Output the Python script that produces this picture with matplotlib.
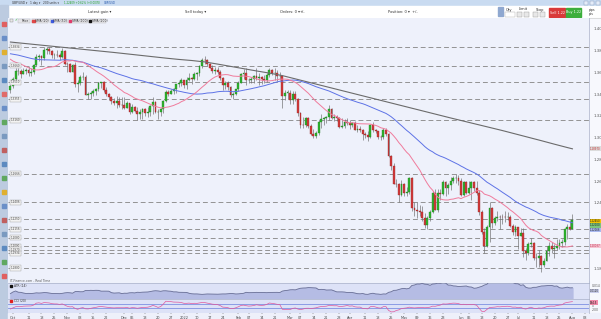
import numpy as np
import pandas as pd
import matplotlib
matplotlib.use("Agg")
import matplotlib.pyplot as plt
from matplotlib.patches import Rectangle

W, H = 601, 319

# GBP/USD daily candles, 30 Sep 2021 - 1 Aug 2022 (one line per week)
opens = [
    1.3435, 1.3477,
    1.3538, 1.3613, 1.3616, 1.3590, 1.3616,
    1.3618, 1.3594, 1.3608, 1.3672, 1.3741,
    1.3747, 1.3732, 1.3808, 1.3819, 1.3802,
    1.3757, 1.3761, 1.3757, 1.3743, 1.3798,
    1.3679, 1.3675, 1.3608, 1.3667, 1.3497,
    1.3500, 1.3556, 1.3560, 1.3395, 1.3403,
    1.3415, 1.3425, 1.3452, 1.3499, 1.3512,
    1.3437, 1.3400, 1.3376, 1.3338, 1.3319,
    1.3337, 1.3303, 1.3300, 1.3275, 1.3317,
    1.3236, 1.3283, 1.3248, 1.3218, 1.3240,
    1.3264, 1.3223, 1.3233, 1.3290, 1.3328,
    1.3233, 1.3239, 1.3263, 1.3337, 1.3417,
    1.3403, 1.3428, 1.3446, 1.3491, 1.3506,
    1.3532, 1.3482, 1.3535, 1.3551, 1.3539,
    1.3590, 1.3595, 1.3657, 1.3717, 1.3714,
    1.3677, 1.3645, 1.3611, 1.3627, 1.3605,
    1.3550, 1.3485, 1.3500, 1.3465, 1.3390,
    1.3400, 1.3447, 1.3506, 1.3590, 1.3591,
    1.3528, 1.3530, 1.3537, 1.3565, 1.3550,
    1.3557, 1.3537, 1.3530, 1.3575, 1.3618,
    1.3591, 1.3594, 1.3565, 1.3570, 1.3382,
    1.3413, 1.3414, 1.3342, 1.3404, 1.3357,
    1.3224, 1.3116, 1.3114, 1.3180, 1.3107,
    1.3035, 1.3012, 1.3041, 1.3148, 1.3174,
    1.3179, 1.3189, 1.3268, 1.3184, 1.3190,
    1.3182, 1.3100, 1.3103, 1.3145, 1.3139,
    1.3116, 1.3133, 1.3070, 1.3077, 1.3069,
    1.3030, 1.3022, 1.3003, 1.3117, 1.3069,
    1.3060, 1.3005, 1.3004, 1.3068, 1.3035,
    1.2832, 1.2737, 1.2576, 1.2573, 1.2475,
    1.2574, 1.2490, 1.2496, 1.2628, 1.2355,
    1.2336, 1.2329, 1.2320, 1.2256, 1.2194,
    1.2259, 1.2313, 1.2489, 1.2338, 1.2494,
    1.2484, 1.2588, 1.2532, 1.2567, 1.2603,
    1.2624, 1.2626, 1.2598, 1.2471, 1.2594,
    1.2487, 1.2532, 1.2590, 1.2539, 1.2490,
    1.2313, 1.2132, 1.2004, 1.2178, 1.2349,
    1.2218, 1.2260, 1.2271, 1.2270, 1.2266,
    1.2265, 1.2268, 1.2184, 1.2133, 1.2178,
    1.2096, 1.2120, 1.1955, 1.1935, 1.2023,
    1.2032, 1.1893, 1.1892, 1.1915, 1.1825,
    1.1866, 1.1957, 1.2001, 1.1975, 1.1988,
    1.1998, 1.2034, 1.2037, 1.2163, 1.2177,
    1.2162,
]
highs = [
    1.3490, 1.3562,
    1.3641, 1.3640, 1.3628, 1.3640, 1.3641,
    1.3655, 1.3640, 1.3680, 1.3773, 1.3774,
    1.3764, 1.3832, 1.3834, 1.3832, 1.3811,
    1.3782, 1.3810, 1.3775, 1.3825, 1.3805,
    1.3700, 1.3688, 1.3680, 1.3698, 1.3528,
    1.3574, 1.3607, 1.3577, 1.3420, 1.3431,
    1.3445, 1.3461, 1.3514, 1.3514, 1.3520,
    1.3463, 1.3411, 1.3385, 1.3363, 1.3380,
    1.3372, 1.3370, 1.3371, 1.3340, 1.3319,
    1.3314, 1.3293, 1.3282, 1.3260, 1.3274,
    1.3275, 1.3282, 1.3300, 1.3375, 1.3340,
    1.3260, 1.3270, 1.3350, 1.3437, 1.3438,
    1.3444, 1.3457, 1.3498, 1.3525, 1.3548,
    1.3535, 1.3560, 1.3599, 1.3555, 1.3600,
    1.3604, 1.3665, 1.3733, 1.3748, 1.3722,
    1.3690, 1.3673, 1.3646, 1.3647, 1.3619,
    1.3556, 1.3522, 1.3517, 1.3472, 1.3418,
    1.3450, 1.3525, 1.3598, 1.3629, 1.3640,
    1.3545, 1.3555, 1.3578, 1.3643, 1.3596,
    1.3567, 1.3575, 1.3592, 1.3643, 1.3632,
    1.3640, 1.3625, 1.3600, 1.3574, 1.3440,
    1.3440, 1.3438, 1.3429, 1.3432, 1.3368,
    1.3238, 1.3187, 1.3190, 1.3188, 1.3121,
    1.3080, 1.3058, 1.3161, 1.3213, 1.3189,
    1.3202, 1.3298, 1.3272, 1.3215, 1.3205,
    1.3190, 1.3180, 1.3167, 1.3178, 1.3164,
    1.3147, 1.3150, 1.3114, 1.3110, 1.3080,
    1.3054, 1.3057, 1.3130, 1.3148, 1.3077,
    1.3063, 1.3022, 1.3091, 1.3090, 1.3041,
    1.2840, 1.2770, 1.2620, 1.2584, 1.2608,
    1.2584, 1.2542, 1.2638, 1.2637, 1.2403,
    1.2407, 1.2380, 1.2372, 1.2308, 1.2276,
    1.2333, 1.2507, 1.2525, 1.2527, 1.2524,
    1.2610, 1.2600, 1.2580, 1.2640, 1.2647,
    1.2666, 1.2652, 1.2624, 1.2600, 1.2599,
    1.2599, 1.2601, 1.2598, 1.2601, 1.2514,
    1.2333, 1.2166, 1.2200, 1.2406, 1.2364,
    1.2283, 1.2324, 1.2290, 1.2297, 1.2323,
    1.2314, 1.2292, 1.2207, 1.2192, 1.2180,
    1.2165, 1.2164, 1.1986, 1.2036, 1.2077,
    1.2040, 1.1937, 1.1966, 1.1922, 1.1890,
    1.2003, 1.2035, 1.2040, 1.2020, 1.2063,
    1.2066, 1.2063, 1.2170, 1.2204, 1.2246,
    1.2293,
]
lows = [
    1.3412, 1.3460,
    1.3530, 1.3578, 1.3545, 1.3582, 1.3582,
    1.3570, 1.3570, 1.3582, 1.3660, 1.3706,
    1.3666, 1.3718, 1.3766, 1.3772, 1.3737,
    1.3727, 1.3740, 1.3718, 1.3736, 1.3671,
    1.3605, 1.3607, 1.3605, 1.3470, 1.3424,
    1.3485, 1.3533, 1.3390, 1.3354, 1.3354,
    1.3386, 1.3390, 1.3432, 1.3459, 1.3419,
    1.3387, 1.3343, 1.3306, 1.3301, 1.3276,
    1.3286, 1.3261, 1.3265, 1.3270, 1.3214,
    1.3231, 1.3234, 1.3160, 1.3173, 1.3175,
    1.3199, 1.3193, 1.3195, 1.3214, 1.3226,
    1.3172, 1.3202, 1.3228, 1.3330, 1.3387,
    1.3400, 1.3400, 1.3409, 1.3468, 1.3478,
    1.3460, 1.3450, 1.3525, 1.3490, 1.3530,
    1.3535, 1.3568, 1.3645, 1.3680, 1.3656,
    1.3640, 1.3591, 1.3590, 1.3584, 1.3530,
    1.3434, 1.3450, 1.3434, 1.3375, 1.3358,
    1.3390, 1.3425, 1.3500, 1.3538, 1.3488,
    1.3500, 1.3500, 1.3505, 1.3532, 1.3485,
    1.3490, 1.3500, 1.3512, 1.3560, 1.3573,
    1.3532, 1.3524, 1.3531, 1.3272, 1.3344,
    1.3357, 1.3314, 1.3308, 1.3338, 1.3200,
    1.3087, 1.3086, 1.3100, 1.3093, 1.3020,
    1.3000, 1.2999, 1.3027, 1.3090, 1.3119,
    1.3135, 1.3165, 1.3176, 1.3151, 1.3150,
    1.3090, 1.3090, 1.3090, 1.3118, 1.3080,
    1.3099, 1.3068, 1.3055, 1.3052, 1.2982,
    1.2994, 1.2973, 1.2998, 1.3050, 1.3046,
    1.2987, 1.2974, 1.2990, 1.3015, 1.2821,
    1.2700, 1.2570, 1.2548, 1.2411, 1.2467,
    1.2467, 1.2460, 1.2479, 1.2325, 1.2276,
    1.2260, 1.2280, 1.2235, 1.2165, 1.2156,
    1.2230, 1.2303, 1.2330, 1.2318, 1.2424,
    1.2474, 1.2465, 1.2480, 1.2517, 1.2580,
    1.2580, 1.2563, 1.2460, 1.2462, 1.2480,
    1.2482, 1.2426, 1.2512, 1.2474, 1.2292,
    1.2116, 1.1934, 1.1992, 1.2040, 1.2171,
    1.2200, 1.2234, 1.2161, 1.2205, 1.2225,
    1.2239, 1.2176, 1.2106, 1.2091, 1.1975,
    1.2090, 1.1900, 1.1876, 1.1920, 1.1996,
    1.1870, 1.1807, 1.1807, 1.1760, 1.1805,
    1.1860, 1.1914, 1.1941, 1.1891, 1.1968,
    1.1979, 1.1990, 1.2014, 1.2063, 1.2150,
    1.2155,
]
closes = [
    1.3477, 1.3538,
    1.3613, 1.3616, 1.3590, 1.3616, 1.3618,
    1.3594, 1.3608, 1.3672, 1.3741, 1.3747,
    1.3732, 1.3808, 1.3819, 1.3802, 1.3757,
    1.3761, 1.3757, 1.3743, 1.3798, 1.3679,
    1.3675, 1.3608, 1.3667, 1.3497, 1.3500,
    1.3556, 1.3560, 1.3395, 1.3403, 1.3415,
    1.3425, 1.3452, 1.3499, 1.3512, 1.3437,
    1.3400, 1.3376, 1.3338, 1.3319, 1.3337,
    1.3303, 1.3300, 1.3275, 1.3317, 1.3236,
    1.3283, 1.3248, 1.3218, 1.3240, 1.3264,
    1.3223, 1.3233, 1.3290, 1.3328, 1.3233,
    1.3239, 1.3263, 1.3337, 1.3417, 1.3403,
    1.3428, 1.3446, 1.3491, 1.3506, 1.3532,
    1.3482, 1.3535, 1.3551, 1.3539, 1.3590,
    1.3595, 1.3657, 1.3717, 1.3714, 1.3677,
    1.3645, 1.3611, 1.3627, 1.3605, 1.3550,
    1.3485, 1.3500, 1.3465, 1.3390, 1.3400,
    1.3447, 1.3506, 1.3590, 1.3591, 1.3528,
    1.3530, 1.3537, 1.3565, 1.3550, 1.3557,
    1.3537, 1.3530, 1.3575, 1.3618, 1.3591,
    1.3594, 1.3565, 1.3570, 1.3382, 1.3413,
    1.3414, 1.3342, 1.3404, 1.3357, 1.3224,
    1.3116, 1.3114, 1.3180, 1.3107, 1.3035,
    1.3012, 1.3041, 1.3148, 1.3174, 1.3179,
    1.3189, 1.3268, 1.3184, 1.3190, 1.3182,
    1.3100, 1.3103, 1.3145, 1.3139, 1.3116,
    1.3133, 1.3070, 1.3077, 1.3069, 1.3030,
    1.3022, 1.3003, 1.3117, 1.3069, 1.3060,
    1.3005, 1.3004, 1.3068, 1.3035, 1.2832,
    1.2737, 1.2576, 1.2573, 1.2475, 1.2574,
    1.2490, 1.2496, 1.2628, 1.2355, 1.2336,
    1.2329, 1.2320, 1.2256, 1.2194, 1.2259,
    1.2313, 1.2489, 1.2338, 1.2494, 1.2484,
    1.2588, 1.2532, 1.2567, 1.2603, 1.2624,
    1.2626, 1.2598, 1.2471, 1.2594, 1.2487,
    1.2532, 1.2590, 1.2539, 1.2490, 1.2313,
    1.2132, 1.2004, 1.2178, 1.2349, 1.2218,
    1.2260, 1.2271, 1.2270, 1.2266, 1.2265,
    1.2268, 1.2184, 1.2133, 1.2178, 1.2096,
    1.2120, 1.1955, 1.1935, 1.2023, 1.2032,
    1.1893, 1.1892, 1.1915, 1.1825, 1.1866,
    1.1957, 1.2001, 1.1975, 1.1988, 1.1998,
    1.2034, 1.2037, 1.2163, 1.2177, 1.2162,
    1.2245,
]
# closes from 22 Jul to 29 Sep 2021, only used to seed the averages
warmup_closes = [
    1.3764, 1.3743, 1.3825, 1.3823, 1.3901, 1.3959, 1.3898,
    1.3887, 1.3913, 1.3896, 1.3890, 1.3871,
    1.3846, 1.3844, 1.3860, 1.3796, 1.3868,
    1.3798, 1.3737, 1.3749, 1.3637, 1.3621,
    1.3718, 1.3732, 1.3736, 1.3722, 1.3763,
    1.3754, 1.3758, 1.3795, 1.3834, 1.3868,
    1.3830, 1.3773, 1.3766, 1.3834, 1.3837,
    1.3832, 1.3826, 1.3821, 1.3783, 1.3735,
    1.3663, 1.3660, 1.3622, 1.3737, 1.3675,
    1.3707, 1.3547, 1.3433,
]
# SMA (200) (candle index, price)
sma200_idx = [0, 5, 10, 15, 20, 25, 30, 35, 40, 45, 50, 55, 60, 65, 70, 75,
              80, 85, 90, 95, 100, 105, 110, 115, 120, 125, 130, 135, 140, 145,
              150, 155, 160, 165, 170, 175, 180, 185, 190, 195, 200, 205, 210,
              215, 217]
sma200_val = [1.3880, 1.3868, 1.3856, 1.3844, 1.3832, 1.3820, 1.3808, 1.3796,
              1.3784, 1.3771, 1.3758, 1.3745, 1.3732, 1.3720, 1.3710, 1.3697,
              1.3677, 1.3656, 1.3635, 1.3614, 1.3594, 1.3571, 1.3541, 1.3511,
              1.3481, 1.3451, 1.3421, 1.3391, 1.3361, 1.3331, 1.3301, 1.3271,
              1.3241, 1.3211, 1.3181, 1.3152, 1.3123, 1.3094, 1.3065, 1.3034,
              1.3003, 1.2972, 1.2940, 1.2909, 1.2897]
# dashed support / resistance lines
sr_levels = [1.3834, 1.3660, 1.3510, 1.3355, 1.3160, 1.2666, 1.2406, 1.2250,
             1.2156, 1.2080, 1.2000, 1.1970, 1.1934, 1.1800]
# price axis labels hidden behind the value tags on the right
hidden_ticks = [1.20, 1.22]

dates = pd.bdate_range("2021-09-30", "2022-08-01")
n = len(closes)
assert n == len(dates) == len(opens) == len(highs) == len(lows)

o = np.array(opens); h = np.array(highs); l = np.array(lows); c = np.array(closes)
x = np.arange(n)
nw = len(warmup_closes)

# moving averages, ATR(14), CCI(20)
c_all = pd.Series(warmup_closes + closes)
sma20 = c_all.rolling(20).mean().values[nw:]
sma50 = c_all.rolling(50).mean().values[nw:]
prev_c = np.r_[warmup_closes[-1], c[:-1]]
tr = np.maximum.reduce([h - l, np.abs(h - prev_c), np.abs(l - prev_c)])
atr = pd.Series(tr).rolling(14, min_periods=1).mean().values
tp = pd.Series(warmup_closes + list((h + l + c) / 3))
md = tp.rolling(20).apply(lambda v: np.mean(np.abs(v - v.mean())), raw=True)
cci = ((tp - tp.rolling(20).mean()) / (0.015 * md)).values[nw:]

# pixel helpers
def frac(x0, y0, x1, y1):
    return [x0 / W, 1 - y1 / H, (x1 - x0) / W, (y1 - y0) / H]

def py(v):
    return 29 + (1.40 - v) * 1086.4

XL = (-0.93, 223.4)

fig = plt.figure(figsize=(W / 100, H / 100), dpi=100)
fig.patch.set_facecolor("white")

bg = fig.add_axes([0, 0, 1, 1], zorder=0)
bg.set_xlim(0, W); bg.set_ylim(H, 0); bg.axis("off")
bg.add_patch(Rectangle((0, 0), W, 6, color="#c9dbf1"))
bg.add_patch(Rectangle((0, 6), W, 12, color="white"))
bg.plot([8, W], [17.5, 17.5], color="#d0d0d0", lw=0.5)
bg.add_patch(Rectangle((0, 5), 8, H, color="#bccbe0"))
bg.add_patch(Rectangle((589, 18), 12, 295, color="#f7f8fd"))
bg.add_patch(Rectangle((8, 313), 593, 6, color="#eef0fa"))
bg.add_patch(Rectangle((8, 281), 581, 2, color="#e6e9f8"))

# left toolbar icons
icon_cols = ["#e06060", "#6a8fc8", "#e0b030", "#7a9ac0", "#5c8ac0", "#e06a6a", "#6a8fc8",
             "#60a860", "#7a9ac0", "#c06060", "#5c8ac0", "#60a860", "#e0b030",
             "#6a8fc8", "#c06060", "#7a9ac0", "#5c8ac0", "#60a860", "#e06060"]
for k, col in enumerate(icon_cols):
    bg.add_patch(Rectangle((2, 22 + k * 14), 4, 4, color=col))

# header texts
hdr = dict(fontsize=2.6, color="#333333", va="center")
top = dict(fontsize=2.1, color="#333333", va="center")
bg.text(12, 3, "GBP/USD \u25be", **top)
bg.text(30, 3, "1 day \u25be", **top)
bg.text(43, 3, "200 units \u25be", **top)
bg.text(64, 3, "1.22409 +0.62% (+0.0076)", fontsize=1.9, color="#1e9e1e", va="center")
bg.text(104, 3, "GBP/USD", fontsize=1.9, color="#2255aa", va="center")
bg.text(88, 12, "Latest gain \u25be", **hdr)
bg.text(185, 12, "Sell today \u25be", **hdr)
bg.text(280, 12, "Orders: 0 \u25be", **hdr)
bg.text(300, 12, "+/-", **hdr)
bg.text(388, 12, "Position: 0 \u25be  +/-", **hdr)
bg.text(506, 9.5, "Qty", **hdr)
bg.text(519, 9.5, "Limit", **hdr)
bg.text(536, 9.5, "Stop", **hdr)
bg.add_patch(Rectangle((498, 7), 5, 9, color="#8fa8d0"))
bg.add_patch(Rectangle((505, 12), 10, 5, fc="white", ec="#aaaaaa", lw=0.3))
for xx in (517, 524, 533, 540):
    bg.add_patch(Rectangle((xx, 12), 5, 5, fc="#e8e8e8", ec="#999999", lw=0.3))
bg.add_patch(Rectangle((549, 8), 16, 9, color="#d93a3a"))
bg.add_patch(Rectangle((566, 8), 15, 9, color="#3cae3c"))
bg.text(557, 12.5, "Sell 1.22", fontsize=2.4, color="white", ha="center", va="center")
bg.text(573.5, 12.5, "Buy 1.22", fontsize=2.4, color="white", ha="center", va="center")
bg.text(589, 9.5, "pips", fontsize=2.3, color="#333333", va="center")
bg.text(589, 14.5, "pts", fontsize=2.3, color="#333333", va="center")
for xx in (584, 590, 596):
    bg.add_patch(Rectangle((xx, 1), 4, 4, fc="#e4ecf8", ec="#7f95b8", lw=0.3))

# ---------------- price panel ----------------
ax = fig.add_axes(frac(8, 18, 589, 283), zorder=1)
ax.set_facecolor("#eef1fb")
ax.set_xlim(*XL)
ax.set_ylim(1.18 - 15 / 1086.4, 1.40 + 11 / 1086.4)
for s in ("top", "left", "bottom"):
    ax.spines[s].set_visible(False)
ax.spines["right"].set_color("#a8b0c8"); ax.spines["right"].set_linewidth(0.5)
ax.yaxis.tick_right()
yt = [v for v in np.round(np.arange(1.18, 1.401, 0.02), 2) if v not in hidden_ticks]
ax.set_yticks(yt)
ax.set_yticklabels([f"{v:.2f}" for v in yt])
ax.tick_params(axis="y", labelsize=2.8, colors="#555555", length=0, pad=3)
ax.set_xticks([])

for lvl in sr_levels:
    ax.axhline(lvl, color="#939393", lw=0.7, ls=(0, (5, 3)), zorder=2)
    ax.text(0.2, lvl, f"{lvl:.4f}", fontsize=2.0, color="#444444", va="center",
            zorder=6, bbox=dict(fc="#f3f3f3", ec="#a0a0a0", lw=0.3, pad=0.4))

up = c >= o
body_col = np.where(up, "#2eb52e", "#d33b3b")
edge_col = np.where(up, "#1e7a1e", "#8e2222")
ax.vlines(x, l, h, color="#6a6a6a", lw=0.45, zorder=3)
ax.bar(x, np.maximum(np.abs(c - o), 0.0003), bottom=np.minimum(o, c), width=0.72,
       color=body_col, edgecolor=edge_col, linewidth=0.25, zorder=4)

ax.plot(sma200_idx, sma200_val, color="#6b6b6b", lw=0.8, zorder=5)
ax.plot(x, sma50, color="#5d72e6", lw=0.7, zorder=5)
ax.plot(x, sma20, color="#f07b9c", lw=0.7, zorder=5)

# ---------------- ATR panel ----------------
ax_atr = fig.add_axes(frac(8, 283, 589, 299), zorder=1)
ax_atr.set_facecolor("#dde2f7")
ax_atr.set_xlim(*XL)
ax_atr.set_ylim(0.0039, 0.0155)
ax_atr.fill_between(x, 0, atr, color="#b5bce4", zorder=2)
ax_atr.plot(x, atr, color="#6a7096", lw=0.6, zorder=3)
ax_atr.set_xticks([])
ax_atr.yaxis.tick_right()
ax_atr.set_yticks([0.014])
ax_atr.set_yticklabels(["0.014"])
ax_atr.tick_params(axis="y", labelsize=2.2, colors="#555555", length=0, pad=2)
for s in ("left", "bottom"):
    ax_atr.spines[s].set_visible(False)
for s in ("top", "right"):
    ax_atr.spines[s].set_color("#a8b0c8"); ax_atr.spines[s].set_linewidth(0.5)

# ---------------- CCI panel ----------------
ax_cci = fig.add_axes(frac(8, 299, 589, 313), zorder=1)
ax_cci.set_facecolor("#dde2f7")
ax_cci.set_xlim(*XL)
ax_cci.set_ylim(-375, 325)
ax_cci.axhline(100, color="#7e90e2", lw=0.6)
ax_cci.axhline(-100, color="#7e90e2", lw=0.6)
ax_cci.plot(x, cci, color="#e0589c", lw=0.5, zorder=3)
ax_cci.yaxis.tick_right()
ax_cci.set_yticks([0, -200])
ax_cci.set_yticklabels(["0", "-200"])
ax_cci.tick_params(axis="y", labelsize=2.2, colors="#555555", length=0, pad=2)
for s in ("left", "bottom"):
    ax_cci.spines[s].set_visible(False)
for s in ("top", "right"):
    ax_cci.spines[s].set_color("#a8b0c8"); ax_cci.spines[s].set_linewidth(0.5)

# date labels: month name on first day of a month, else the Mondays
# (a Monday right next to a month label is left out)
all_days = pd.bdate_range("2021-09-30", "2022-08-10")
month_pos = [i for i in range(1, len(all_days)) if all_days[i].month != all_days[i - 1].month]
tpos, tlab = [], []
for i, d in enumerate(all_days):
    if i in month_pos:
        tpos.append(i); tlab.append("2022" if d.month == 1 else d.strftime("%b"))
    elif d.weekday() == 0 and min(abs(i - m) for m in month_pos) > 2:
        tpos.append(i); tlab.append(d.strftime("%d"))
ax_cci.set_xticks(tpos)
ax_cci.set_xticklabels(tlab)
ax_cci.tick_params(axis="x", labelsize=2.5, colors="#444444", length=1, width=0.3, pad=1)

# ---------------- overlay: legend row, tags ----------------
fg = fig.add_axes([0, 0, 1, 1], zorder=10)
fg.set_xlim(0, W); fg.set_ylim(H, 0); fg.axis("off"); fg.patch.set_alpha(0)

leg_items = [("Price", None), ("SMA (20)", "#e04848"), ("SMA (50)", "#3c5ae0"),
             ("SMA (100)", "#e03a6a"), ("SMA (200)", "#111111")]
fg.add_patch(Rectangle((10, 19), 3, 3, fc="#e8e8e8", ec="#888888", lw=0.3))
fg.text(14, 20.7, "\u2713", fontsize=2.6, color="#22aa22", va="center")
lx = 18
for name, col in leg_items:
    wbox = 4 + len(name) * 1.6
    fg.add_patch(Rectangle((lx, 18.7), wbox, 4, fc="#e6e6ea", ec="#b5b5b5", lw=0.3))
    if col:
        fg.add_patch(Rectangle((lx + 0.7, 19.5), 2.4, 2.4, color=col))
    fg.text(lx + 3.6, 20.8, name, fontsize=2.2, color="#333333", va="center")
    lx += wbox + 1.5

fg.text(10, 280.5, "IT-Finance.com - Real Time", fontsize=2.2, color="#555555", va="center")
fg.add_patch(Rectangle((10, 284.5), 2.4, 2.4, color="#111111"))
fg.text(13.5, 285.8, "ATR (14)", fontsize=2.2, color="#333333", va="center")
fg.add_patch(Rectangle((10, 300), 2.4, 2.4, color="#e02020"))
fg.text(13.5, 301.3, "CCI (20)", fontsize=2.2, color="#333333", va="center")


def tag(ypix, text, fc, tc="#222222"):
    fg.text(590, ypix, text, fontsize=1.9, color=tc, va="center",
            bbox=dict(fc=fc, ec="none", pad=0.25))


tag(py(sma200_val[-1]), f"{sma200_val[-1]:.5f}", "#dcdcdc", "#c03030")
tag(221, f"{c[-1]:.5f}", "#f2c200")
tag(225.5, f"{c[-1] - 0.0035:.5f}", "#7cc47c")
tag(230, f"{sma50[-1]:.5f}", "#a9b9f0")
tag(py(sma20[-1]), f"{sma20[-1]:.5f}", "#f6c4d2", "#c03050")
tag(291, f"{atr[-1]:.4f}", "#c9cdea")
tag(302.5, f"{cci[-1]:.1f}", "#f08aa8")

fig.savefig("out.png", dpi=100)
